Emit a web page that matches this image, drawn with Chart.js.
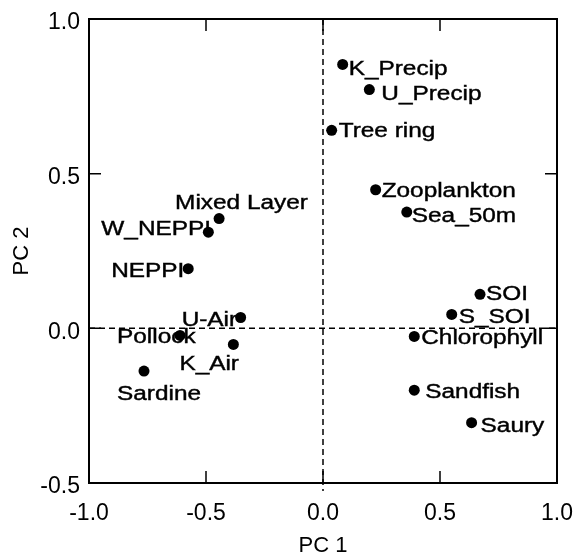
<!DOCTYPE html>
<html>
<head>
<meta charset="utf-8">
<script src="https://cdn.jsdelivr.net/npm/chart.js@4.4.0/dist/chart.umd.min.js"></script>
<style>
  html, body { margin: 0; padding: 0; background: #fff; }
  canvas { display: block; }
</style>
</head>
<body>
<canvas id="pca-chart" width="574" height="557"></canvas>
<script>
// PCA loadings
const variableNames = ['K_Precip', 'U_Precip', 'Tree ring', 'Zooplankton', 'Sea_50m', 'Mixed Layer', 'W_NEPPI', 'NEPPI', 'U-Air', 'Pollock', 'K_Air', 'Sardine', 'SOI', 'S_SOI', 'Chlorophyll', 'Sandfish', 'Saury'];
const pc1Values = [0.084, 0.198, 0.037, 0.225, 0.358, -0.444, -0.49, -0.576, -0.352, -0.611, -0.383, -0.765, 0.671, 0.55, 0.39, 0.39, 0.635];
const pc2Values = [0.853, 0.772, 0.64, 0.448, 0.376, 0.355, 0.311, 0.193, 0.035, -0.023, -0.052, -0.138, 0.11, 0.045, -0.026, -0.2, -0.305];

const xTickValues = [-1, -0.5, 0, 0.5, 1];
const xTickLabels = ['-1.0', '-0.5', '0.0', '0.5', '1.0'];
const yTickValues = [-0.5, 0, 0.5, 1];
const yTickLabels = ['-0.5', '0.0', '0.5', '1.0'];

// where each name sits relative to its dot (px: start of text, baseline)
const labelDx = [6, 12, 7, 6, 5, -44, -107, -77, -59, -63, -54, -27, 6, 7, 7, 11, 9];
const labelDy = [11, 10, 7, 7, 10, -10, 3, 8, 8, 8, 26, 29, 6, 9, 8, 8, 9];

const FONT = '"Liberation Sans", Arial, sans-serif';

const scatterData = pc1Values.map((v, i) => ({ x: v, y: pc2Values[i] }));

const framePlugin = {
  id: 'frame',
  beforeDatasetsDraw(chart) {
    const { ctx, chartArea: a, scales: { x, y } } = chart;
    ctx.save();
    ctx.strokeStyle = '#000';

    // dashed zero lines
    ctx.lineWidth = 1.5;
    ctx.setLineDash([6, 4]);
    const x0 = x.getPixelForValue(0);
    const y0 = y.getPixelForValue(0);
    ctx.beginPath();
    ctx.moveTo(x0, a.top);
    ctx.lineTo(x0, a.bottom + 8);
    ctx.moveTo(a.left, y0);
    ctx.lineTo(a.right, y0);
    ctx.stroke();
    ctx.setLineDash([]);

    // box
    ctx.lineWidth = 2;
    ctx.strokeRect(a.left, a.top, a.right - a.left, a.bottom - a.top);

    // inward tick marks on all four sides
    const len = 12;
    ctx.lineWidth = 1.5;
    ctx.beginPath();
    xTickValues.filter(v => v > x.min && v < x.max).forEach(v => {
      const px = x.getPixelForValue(v);
      ctx.moveTo(px, a.bottom); ctx.lineTo(px, a.bottom - len);
      ctx.moveTo(px, a.top); ctx.lineTo(px, a.top + len);
    });
    yTickValues.filter(v => v > y.min && v < y.max).forEach(v => {
      const py = y.getPixelForValue(v);
      ctx.moveTo(a.left, py); ctx.lineTo(a.left + len, py);
      ctx.moveTo(a.right, py); ctx.lineTo(a.right - len, py);
    });
    ctx.stroke();
    ctx.restore();
  },
  afterDatasetsDraw(chart) {
    const { ctx } = chart;
    const meta = chart.getDatasetMeta(0);
    ctx.save();
    ctx.fillStyle = '#000';
    ctx.strokeStyle = '#000';
    ctx.lineWidth = 0.4;
    ctx.font = '19.5px ' + FONT;
    ctx.textAlign = 'left';
    ctx.textBaseline = 'alphabetic';
    meta.data.forEach((pt, i) => {
      ctx.save();
      ctx.translate(pt.x + labelDx[i], pt.y + labelDy[i]);
      ctx.scale(1.25, 1); // the source lettering is wide
      ctx.fillText(variableNames[i], 0, 0);
      ctx.strokeText(variableNames[i], 0, 0);
      ctx.restore();
    });
    ctx.restore();
  }
};

new Chart(document.getElementById('pca-chart').getContext('2d'), {
  type: 'scatter',
  data: {
    datasets: [{
      data: scatterData,
      pointRadius: 5.5,
      pointHoverRadius: 5.5,
      pointBackgroundColor: '#000',
      pointBorderColor: '#000',
      pointBorderWidth: 0
    }]
  },
  options: {
    responsive: false,
    animation: false,
    layout: { padding: { left: 0, top: 19, right: 17, bottom: 0 } },
    plugins: { legend: { display: false }, tooltip: { enabled: false } },
    scales: {
      x: {
        type: 'linear',
        min: -1,
        max: 1,
        afterBuildTicks: s => { s.ticks = xTickValues.map(v => ({ value: v })); },
        afterFit: s => { s.height = 74; s.paddingLeft = 0; s.paddingRight = 0; },
        grid: { display: false, drawTicks: false },
        border: { display: false },
        ticks: {
          padding: 17,
          color: '#000',
          font: { family: FONT, size: 23 },
          callback: v => xTickLabels[xTickValues.indexOf(v)]
        },
        title: {
          display: true,
          text: 'PC 1',
          color: '#000',
          font: { family: FONT, size: 22, lineHeight: 1 },
          padding: { top: 0, bottom: 0 }
        }
      },
      y: {
        type: 'linear',
        min: -0.5,
        max: 1,
        afterBuildTicks: s => { s.ticks = yTickValues.map(v => ({ value: v })); },
        afterFit: s => { s.width = 89; s.paddingTop = 0; s.paddingBottom = 0; },
        grid: { display: false, drawTicks: false },
        border: { display: false },
        ticks: {
          padding: 9,
          labelOffset: 4,
          color: '#000',
          font: { family: FONT, size: 23 },
          callback: v => yTickLabels[yTickValues.indexOf(v)]
        },
        title: {
          display: true,
          text: 'PC 2',
          color: '#000',
          font: { family: FONT, size: 22, lineHeight: 1 },
          padding: { top: 11, bottom: 0 }
        }
      }
    }
  },
  plugins: [framePlugin]
});
</script>
</body>
</html>
